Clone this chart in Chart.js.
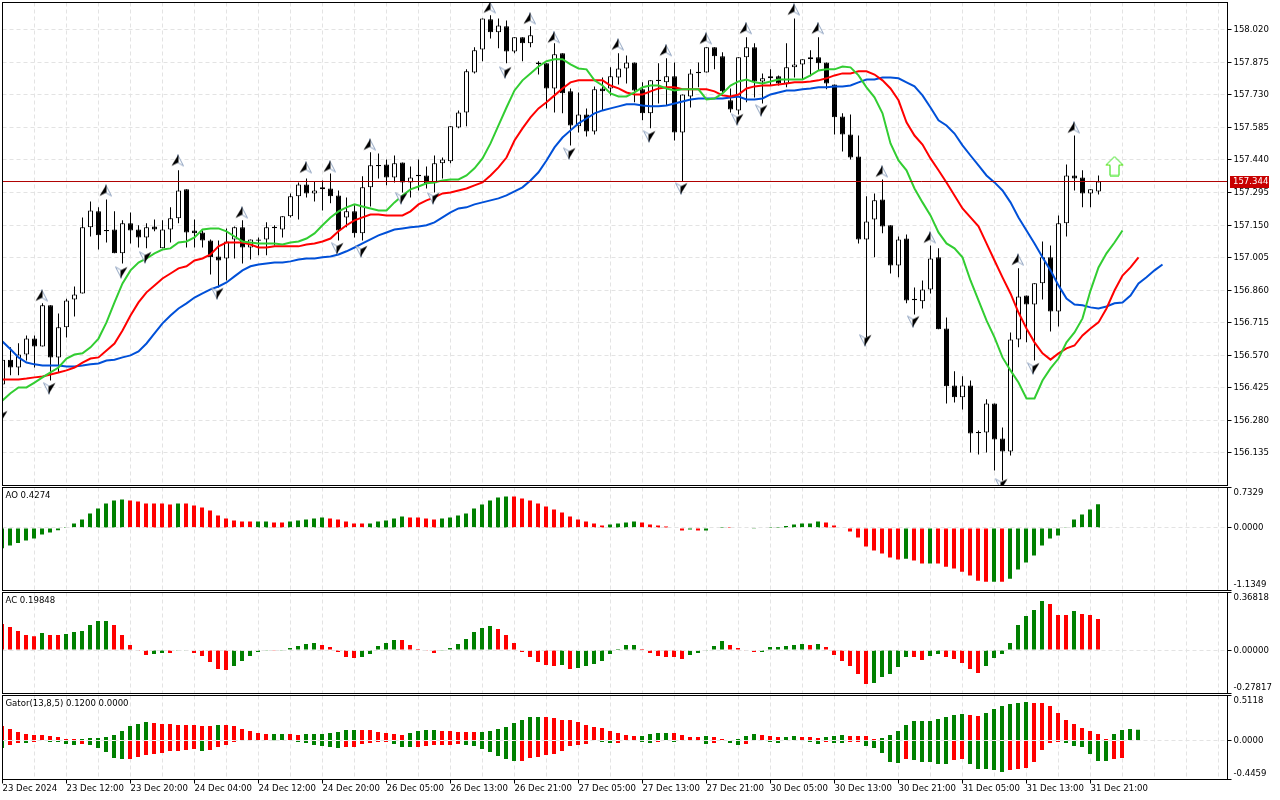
<!DOCTYPE html>
<html><head><meta charset="utf-8">
<style>
html,body{margin:0;padding:0;background:#fff;width:1280px;height:800px;overflow:hidden}
canvas{position:absolute;left:0;display:block}
</style>
<script src="https://cdn.jsdelivr.net/npm/chart.js@4/dist/chart.umd.min.js"></script>
</head><body>
<canvas id="cMain" style="top:0;width:1280px;height:487px" width="1280" height="487"></canvas>
<canvas id="cAO" style="top:487px;width:1280px;height:104px" width="1280" height="104"></canvas>
<canvas id="cAC" style="top:591px;width:1280px;height:103px" width="1280" height="103"></canvas>
<canvas id="cGator" style="top:694px;width:1280px;height:106px" width="1280" height="106"></canvas>
<script>
const timeLabels=["23 Dec 2024","23 Dec 12:00","23 Dec 20:00","24 Dec 04:00","24 Dec 12:00","24 Dec 20:00","26 Dec 05:00","26 Dec 13:00","26 Dec 21:00","27 Dec 05:00","27 Dec 13:00","27 Dec 21:00","30 Dec 05:00","30 Dec 13:00","30 Dec 21:00","31 Dec 05:00","31 Dec 13:00","31 Dec 21:00"];
const priceTicks=[158.020,157.875,157.730,157.585,157.440,157.295,157.150,157.005,156.860,156.715,156.570,156.425,156.280,156.135];
const currentPrice=157.344;

const opens=[156.439,156.550,156.515,156.573,156.644,156.609,156.792,156.560,156.694,156.818,
156.845,157.140,157.211,157.128,157.130,157.024,157.158,157.130,157.095,157.144,
157.046,157.130,157.180,157.309,157.126,157.117,157.081,157.010,157.001,157.086,
157.140,157.050,157.086,157.086,157.142,157.130,157.189,157.278,157.331,157.291,
157.309,157.313,157.282,157.184,157.211,157.113,157.318,157.418,157.420,157.362,
157.429,157.340,157.374,157.371,157.336,157.425,157.434,157.585,157.652,157.830,
157.933,158.067,158.009,158.036,157.924,157.987,157.960,157.874,157.871,157.759,
157.916,157.746,157.590,157.643,157.567,157.759,157.759,157.808,157.848,157.875,
157.755,157.648,157.798,157.786,157.813,157.563,157.723,157.833,157.830,157.942,
157.902,157.706,157.661,157.898,157.942,157.790,157.804,157.813,157.781,157.853,
157.866,157.889,157.898,157.875,157.777,157.634,157.554,157.456,157.086,157.175,
157.264,157.149,156.970,157.090,156.821,156.810,156.863,157.006,156.689,156.435,
156.382,156.435,156.228,156.225,156.354,156.199,156.141,156.640,156.836,156.796,
156.890,157.006,156.765,157.158,157.371,157.362,157.291,157.300];
const highs=[156.550,156.605,156.623,156.658,156.658,156.801,156.792,156.756,156.822,156.876,
157.184,157.255,157.229,157.264,157.211,157.171,157.206,157.149,157.158,157.175,
157.171,157.229,157.394,157.309,157.175,157.126,157.086,157.081,157.135,157.144,
157.171,157.086,157.095,157.162,157.149,157.189,157.291,157.340,157.358,157.345,
157.349,157.380,157.304,157.273,157.238,157.367,157.474,157.469,157.442,157.460,
157.429,157.411,157.442,157.411,157.460,157.451,157.590,157.661,157.844,157.942,
158.071,158.085,158.071,158.062,157.987,157.987,158.036,157.880,157.871,157.960,
157.916,157.759,157.741,157.670,157.768,157.808,157.853,157.916,157.906,157.875,
157.786,157.795,157.871,157.893,157.875,157.732,157.844,157.875,157.942,157.942,
157.920,157.759,157.898,157.987,157.960,157.826,157.844,157.817,157.960,158.071,
157.889,157.929,157.987,157.875,157.777,157.648,157.643,157.549,157.278,157.291,
157.353,157.149,157.099,157.108,156.872,156.903,157.059,157.046,156.738,156.498,
156.476,156.457,156.234,156.373,156.354,156.248,156.671,156.957,156.836,156.890,
157.077,157.059,157.193,157.420,157.549,157.394,157.309,157.371];
const lows=[156.439,156.480,156.480,156.546,156.515,156.609,156.457,156.493,156.649,156.742,
156.845,157.099,157.041,157.072,157.024,156.979,157.068,157.050,157.046,157.122,
157.046,157.072,157.158,157.050,157.050,157.050,156.930,156.872,156.903,157.001,
156.979,156.996,157.015,157.015,157.059,157.095,157.184,157.175,157.273,157.255,
157.215,157.247,157.081,157.140,157.095,157.081,157.233,157.358,157.327,157.340,
157.295,157.273,157.304,157.313,157.295,157.358,157.425,157.581,157.590,157.826,
157.880,157.982,157.938,157.871,157.916,157.880,157.942,157.821,157.670,157.652,
157.648,157.505,157.563,157.545,157.554,157.661,157.728,157.777,157.781,157.697,
157.617,157.581,157.692,157.683,157.527,157.345,157.674,157.764,157.830,157.844,
157.737,157.652,157.643,157.697,157.719,157.692,157.772,157.772,157.764,157.808,
157.799,157.813,157.839,157.755,157.554,157.478,157.442,157.068,156.649,157.006,
157.113,156.934,156.917,156.801,156.751,156.778,156.845,156.685,156.354,156.359,
156.328,156.136,156.127,156.136,156.056,156.011,156.123,156.605,156.627,156.546,
156.818,156.676,156.698,157.099,157.304,157.229,157.229,157.286];
const closes=[156.550,156.515,156.573,156.644,156.609,156.792,156.560,156.694,156.814,156.840,
157.140,157.215,157.104,157.122,157.024,157.158,157.126,157.095,157.140,157.130,
157.130,157.180,157.304,157.117,157.113,157.081,157.006,156.992,157.077,157.140,
157.050,157.086,157.080,157.140,157.136,157.189,157.278,157.331,157.291,157.304,
157.318,157.278,157.126,157.211,157.113,157.318,157.416,157.412,157.362,157.425,
157.340,157.362,157.368,157.336,157.425,157.442,157.590,157.652,157.835,157.929,
158.071,158.009,158.040,157.924,157.987,157.960,157.996,157.868,157.759,157.911,
157.737,157.594,157.643,157.567,157.755,157.746,157.813,157.848,157.875,157.750,
157.648,157.795,157.792,157.813,157.563,157.732,157.826,157.827,157.942,157.902,
157.746,157.665,157.898,157.942,157.790,157.804,157.813,157.781,157.853,157.866,
157.889,157.898,157.871,157.781,157.630,157.554,157.451,157.086,157.166,157.260,
157.144,156.970,157.086,156.814,156.815,156.863,157.001,156.685,156.431,156.382,
156.435,156.221,156.222,156.354,156.194,156.141,156.640,156.832,156.796,156.890,
157.006,156.765,157.158,157.371,157.358,157.291,157.309,157.344];

const lips=[156.368,156.400,156.426,156.426,156.448,156.471,156.493,156.515,156.555,156.573,156.578,156.605,156.644,156.716,156.805,156.890,156.948,156.983,157.001,157.024,157.041,157.046,157.072,157.077,157.095,157.130,157.135,157.135,157.122,157.099,157.077,157.072,157.068,157.068,157.068,157.063,157.072,157.077,157.090,157.113,
157.149,157.184,157.211,157.229,157.242,157.233,157.224,157.215,157.215,157.251,157.282,157.309,157.322,157.336,157.340,157.349,157.353,157.353,157.371,157.403,157.447,157.514,157.594,157.674,157.750,157.795,157.826,157.857,157.880,157.889,157.889,157.866,157.848,157.844,157.795,157.772,157.737,157.723,157.723,157.741,
157.764,157.772,157.772,157.759,157.750,157.755,157.755,157.755,157.710,157.714,157.737,157.772,157.790,157.799,157.786,157.781,157.790,157.799,157.799,157.799,157.799,157.817,157.839,157.844,157.844,157.857,157.853,157.817,157.764,157.719,157.648,157.514,157.438,157.394,157.313,157.251,157.193,157.117,157.068,157.046,157.006,156.903,156.814,156.725,156.649,156.560,156.502,156.448,156.377,156.377,156.457,156.511,156.555,156.627,156.671,156.734,156.858,156.961,157.024,157.072,157.126];
const teeth=[156.462,156.462,156.462,156.466,156.471,156.475,156.484,156.493,156.502,156.515,156.537,156.555,156.560,156.591,156.622,156.680,156.747,156.805,156.850,156.881,156.912,156.934,156.957,156.966,156.992,157.001,157.019,157.055,157.072,157.072,157.072,157.063,157.050,157.050,157.055,157.055,157.055,157.055,157.063,157.068,
157.077,157.090,157.122,157.149,157.171,157.184,157.197,157.197,157.193,157.193,157.193,157.211,157.242,157.260,157.273,157.291,157.295,157.304,157.313,157.327,157.340,157.371,157.407,157.451,157.527,157.581,157.630,157.670,157.697,157.728,157.759,157.786,157.795,157.795,157.795,157.795,157.772,157.759,157.741,157.732,
157.732,157.746,157.759,157.764,157.764,157.755,157.755,157.755,157.755,157.746,157.728,157.723,157.732,157.759,157.768,157.772,157.772,157.777,157.781,157.786,157.786,157.790,157.795,157.804,157.817,157.826,157.826,157.835,157.835,157.821,157.795,157.759,157.706,157.608,157.549,157.509,157.447,157.394,157.340,157.282,157.224,157.184,157.144,157.068,156.992,156.917,156.845,156.760,156.689,156.627,156.578,156.550,156.578,156.600,156.613,156.658,156.689,156.716,156.778,156.858,156.925,156.961,157.006];
const jaw=[156.631,156.596,156.560,156.537,156.529,156.524,156.524,156.524,156.520,156.520,156.524,156.529,156.533,156.546,156.550,156.560,156.569,156.587,156.622,156.667,156.712,156.747,156.778,156.801,156.827,156.845,156.863,156.876,156.894,156.921,156.948,156.966,156.974,156.979,156.983,156.983,156.988,156.996,157.001,157.001,
157.006,157.010,157.019,157.033,157.050,157.068,157.086,157.104,157.117,157.130,157.135,157.140,157.144,157.149,157.162,157.184,157.206,157.224,157.229,157.242,157.251,157.260,157.269,157.282,157.300,157.318,157.349,157.385,157.438,157.496,157.540,157.572,157.603,157.625,157.648,157.661,157.670,157.679,157.688,157.688,
157.683,157.679,157.679,157.683,157.692,157.701,157.710,157.714,157.714,157.714,157.714,157.719,157.723,157.710,157.710,157.714,157.732,157.741,157.750,157.750,157.755,157.759,157.764,157.764,157.768,157.768,157.772,157.786,157.799,157.799,157.808,157.808,157.804,157.786,157.768,157.728,157.674,157.617,157.594,157.558,157.505,157.460,157.416,157.371,157.340,157.304,157.251,157.184,157.126,157.068,157.006,156.948,156.881,156.822,156.796,156.792,156.783,156.778,156.787,156.801,156.805,156.836,156.890,156.917,156.948,156.974];

const upFractalBars=[5,13,22,30,38,41,46,61,66,69,77,83,88,93,99,102,110,116,127,134];
const upFractalPrices=[156.836,157.304,157.438,157.206,157.407,157.411,157.509,158.120,158.071,157.987,157.955,157.929,157.982,158.027,158.111,158.027,157.389,157.095,156.996,157.585];
const downFractalBars=[0,6,15,18,27,42,45,50,54,63,71,81,85,92,95,108,114,125,129];
const downFractalPrices=[156.297,156.422,156.939,157.006,156.845,157.046,157.033,157.269,157.269,157.830,157.469,157.545,157.313,157.621,157.661,156.636,156.720,155.994,156.511];
const signalBar=[139], signalPrice=[157.413];

const aoValues=[-0.369,-0.321,-0.272,-0.230,-0.194,-0.121,-0.085,-0.042,0.018,0.079,0.151,0.260,0.351,0.442,0.496,0.514,0.496,0.478,0.442,0.442,0.442,0.424,0.442,0.442,0.405,0.369,0.315,0.224,0.169,0.133,0.115,0.115,0.115,0.115,0.097,0.097,0.115,0.133,0.151,0.169,
0.188,0.169,0.151,0.115,0.079,0.079,0.079,0.115,0.133,0.169,0.206,0.188,0.188,0.169,0.151,0.169,0.188,0.224,0.260,0.351,0.424,0.496,0.551,0.569,0.569,0.532,0.496,0.442,0.387,0.333,0.278,0.206,0.151,0.115,0.079,0.042,0.061,0.079,0.097,0.115,
0.097,0.061,0.042,0.024,0.006,-0.048,-0.030,-0.048,-0.048,0.006,0.018,0.018,-0.012,-0.012,-0.006,-0.012,0.018,0.018,0.036,0.061,0.079,0.079,0.115,0.097,0.042,0.006,-0.066,-0.175,-0.339,-0.411,-0.466,-0.538,-0.575,-0.557,-0.593,-0.647,-0.647,-0.647,-0.702,-0.738,
-0.793,-0.865,-0.956,-0.974,-0.974,-0.974,-0.920,-0.756,-0.629,-0.502,-0.321,-0.194,-0.139,0.012,0.151,0.242,0.333,0.4274];
const aoTrend="G16 R6 G1 R9 G2 R2 G5 R5 G5 R4 G9 R12 G4 R6 G1 R1 G3 R3 G1 R1 G7 R10 G1 R2 G1 R7 G1 R1 G12";
const acValues=[0.166,0.147,0.121,0.096,0.089,0.109,0.096,0.096,0.102,0.115,0.121,0.160,0.185,0.185,0.160,0.096,0.032,-0.006,-0.032,-0.026,-0.019,-0.019,-0.004,-0.004,-0.019,-0.038,-0.077,-0.121,-0.128,-0.102,-0.070,-0.038,-0.013,-0.004,-0.004,-0.004,0.013,0.026,0.038,0.045,
0.032,0.019,-0.013,-0.045,-0.051,-0.045,-0.026,0.026,0.045,0.064,0.064,0.032,0.006,-0.002,-0.019,-0.002,0.013,0.038,0.070,0.115,0.141,0.153,0.134,0.096,0.045,-0.013,-0.045,-0.077,-0.096,-0.102,-0.096,-0.121,-0.115,-0.102,-0.089,-0.070,-0.026,0.006,0.032,0.032,
0.006,-0.019,-0.038,-0.045,-0.045,-0.058,-0.032,-0.019,-0.004,0.026,0.058,0.032,0.013,-0.002,-0.013,-0.013,0.019,0.019,0.026,0.032,0.038,0.032,0.038,0.019,-0.032,-0.070,-0.102,-0.153,-0.217,-0.211,-0.173,-0.153,-0.109,-0.045,-0.045,-0.064,-0.038,-0.026,-0.045,-0.058,
-0.083,-0.121,-0.147,-0.102,-0.051,-0.026,0.045,0.160,0.217,0.256,0.313,0.294,0.224,0.224,0.249,0.230,0.224,0.19848];
const acTrend="R5 G1 R2 G6 R5 G2 R1 G2 R5 G5 R1 G5 R5 G5 R5 G7 R8 G1 R1 G8 R6 G5 R4 G6 R1 G1 R6 G5 R2 G2 R5 G8 R3 G1 R3";
const gatorUp=[0.163,0.129,0.095,0.072,0.061,0.061,0.049,0.038,0.015,0.015,0.015,0.027,0.027,0.038,0.061,0.106,0.163,0.186,0.209,0.198,0.186,0.186,0.175,0.175,0.175,0.163,0.163,0.175,0.175,0.163,0.129,0.106,0.084,0.072,0.072,0.072,0.072,0.061,0.072,0.072,
0.072,0.084,0.095,0.118,0.118,0.118,0.118,0.095,0.084,0.072,0.061,0.084,0.106,0.118,0.118,0.106,0.106,0.095,0.095,0.095,0.095,0.106,0.129,0.152,0.198,0.232,0.266,0.266,0.266,0.255,0.232,0.232,0.209,0.175,0.152,0.141,0.106,0.084,0.061,0.049,
0.049,0.072,0.084,0.084,0.084,0.061,0.038,0.038,0.049,0.038,0.015,0.004,0.015,0.049,0.072,0.061,0.049,0.038,0.038,0.049,0.038,0.038,0.027,0.038,0.049,0.061,0.049,0.049,0.049,0.015,0.027,0.061,0.106,0.175,0.220,0.220,0.220,0.243,0.266,0.289,
0.300,0.289,0.277,0.312,0.357,0.391,0.414,0.426,0.437,0.426,0.426,0.391,0.312,0.232,0.186,0.141,0.106,0.072,0.015,0.072,0.118,0.129,0.120];
const gatorDown=[-0.087,-0.053,-0.030,-0.030,-0.019,-0.008,-0.019,-0.019,-0.042,-0.053,-0.042,-0.053,-0.087,-0.133,-0.201,-0.213,-0.213,-0.190,-0.167,-0.156,-0.144,-0.122,-0.122,-0.110,-0.099,-0.122,-0.110,-0.076,-0.053,-0.019,-0.008,-0.008,-0.008,-0.008,-0.004,-0.008,-0.008,-0.019,-0.030,-0.053,
-0.065,-0.076,-0.087,-0.076,-0.076,-0.042,-0.030,-0.019,-0.019,-0.042,-0.076,-0.076,-0.076,-0.065,-0.053,-0.053,-0.053,-0.042,-0.053,-0.065,-0.099,-0.133,-0.179,-0.213,-0.236,-0.236,-0.201,-0.190,-0.167,-0.156,-0.122,-0.065,-0.053,-0.042,-0.008,-0.019,-0.030,-0.030,-0.008,-0.008,
-0.019,-0.030,-0.019,-0.008,-0.019,-0.008,-0.008,-0.008,-0.042,-0.030,-0.008,-0.030,-0.053,-0.042,-0.008,-0.008,-0.019,-0.030,-0.008,-0.008,-0.008,-0.019,-0.042,-0.019,-0.030,-0.030,-0.019,-0.019,-0.065,-0.087,-0.144,-0.247,-0.258,-0.213,-0.224,-0.247,-0.247,-0.270,-0.270,-0.224,
-0.213,-0.270,-0.327,-0.327,-0.338,-0.361,-0.338,-0.327,-0.315,-0.247,-0.110,-0.030,-0.019,-0.030,-0.065,-0.076,-0.156,-0.236,-0.236,-0.213,-0.201,0,0];
const gatorUpTrend="R10 G9 R8 G1 R6 G2 R2 G7 R6 G4 R5 G8 R12 G4 R4 G1 R2 G4 R3 G2 R3 G3 R4 G11 R2 G6 R10 G4";
const gatorDownTrend="G1 R2 G1 R2 G4 R1 G5 R9 G1 R5 G4 R2 G6 R6 G3 R6 G7 R9 G3 R3 G2 R2 G1 R1 G3 R2 G2 R1 G1 R1 G2 R3 G2 R1 G2 R2 G5 R1 G5 R2 G5 R7 G6 R2 G2";

const FAMILY="'DejaVu Sans Condensed','DejaVu Sans',sans-serif";
const FONT={family:FAMILY,size:9.5,lineHeight:'11px'};
const FONT_CSS="9.5px "+FAMILY;
const GRID='#e3e3e3', GREEN='#008000', RED='#ff0000';
const XMAX=153.125, BAR_NUDGE=-0.0625;
const expand=s=>s.split(' ').flatMap(t=>Array(+t.slice(1)).fill(t[0]==='G'?GREEN:RED));

function arrowCanvas(dir){
  const c=document.createElement('canvas');c.width=17;c.height=14;
  const g=c.getContext('2d');
  g.translate(8.5,7);
  if(dir<0)g.rotate(Math.PI);
  g.translate(dir>0?-1:1,0);
  g.lineWidth=1;
  g.beginPath();g.moveTo(0,-6);g.lineTo(6,5.5);g.lineTo(0,2);g.closePath();
  g.fillStyle='#fff';g.fill();
  g.strokeStyle='#8fa3c0';g.stroke();
  g.beginPath();g.moveTo(1,-6);g.lineTo(-6,5.5);g.lineTo(1,2);g.closePath();
  g.fillStyle='#000';g.fill();
  return c;
}
function signalCanvas(){
  const c=document.createElement('canvas');c.width=21;c.height=21;
  const g=c.getContext('2d');
  g.beginPath();g.moveTo(10.5,1);g.lineTo(19,9.5);g.lineTo(15,9.5);g.lineTo(15,20);g.lineTo(6,20);g.lineTo(6,9.5);g.lineTo(2,9.5);g.closePath();
  g.strokeStyle='#7dffd8';g.lineWidth=1;g.translate(0.6,0);g.stroke();g.translate(-0.6,0);
  g.strokeStyle='#5ee012';g.stroke();
  return c;
}
function frameAndText(label,extra){
  return {id:'panelDeco',afterDraw(chart){
    const {ctx,chartArea:a}=chart;
    ctx.save();
    ctx.strokeStyle='#000';ctx.lineWidth=1;ctx.setLineDash([]);
    ctx.strokeRect(a.left,a.top,a.right-a.left,a.bottom-a.top);
    ctx.font=FONT_CSS;ctx.fillStyle='#000';ctx.textBaseline='middle';ctx.textAlign='left';
    if(label)ctx.fillText(label,a.left+3,a.top+8.5);
    if(extra)extra(chart,ctx);
    ctx.restore();
  }};
}
function xScale(bottomHeight,withLabels){
  return {type:'linear',min:0,max:XMAX,offset:false,
    afterBuildTicks(s){const t=[];for(let v=0;v<=152;v+=4)t.push({value:v});s.ticks=t;},
    afterFit(s){s.height=bottomHeight;s.paddingLeft=s.paddingRight=s.paddingTop=s.paddingBottom=0;},
    border:{display:false,dash:[4,3]},
    grid:{color:GRID,lineWidth:1,offset:false,drawTicks:withLabels,tickLength:4,tickWidth:1,tickBorderDash:[],
      tickColor:c=>(c.tick&&c.tick.value%8===0&&timeLabels[c.tick.value/8])?'#000':'rgba(0,0,0,0)'},
    ticks:{display:withLabels,autoSkip:false,maxRotation:0,minRotation:0,align:'start',padding:0,color:'#000',font:FONT,
      callback:v=>(v%8===0&&timeLabels[v/8])||''}
  };
}
function yScale(min,max,tickVals,fmt,z,edgeShift){
  return {type:'linear',position:'right',min,max,
    afterBuildTicks(s){s.ticks=tickVals.map(v=>({value:v}));},
    afterFit(s){s.width=52.5;s.paddingLeft=s.paddingRight=s.paddingTop=s.paddingBottom=0;},
    border:{display:false,dash:[4,3]},
    grid:{color:GRID,lineWidth:1,tickLength:4,tickWidth:1,tickColor:'#000',tickBorderDash:[],z},
    ticks:{autoSkip:false,padding:2,color:'#000',font:FONT,
      callback(v){const t=v.toFixed(fmt);
        if(!edgeShift)return t;
        if(v===max)return ['',t];
        if(v===min)return [t,''];
        return t;}}
  };
}
function baseOptions(padding,scales){
  return {responsive:false,animation:false,events:[],devicePixelRatio:1,
    layout:{padding,autoPadding:false},
    plugins:{legend:{display:false},tooltip:{enabled:false},title:{display:false}},
    scales};
}
const barCommon={grouped:false,barPercentage:1,categoryPercentage:1,inflateAmount:0,borderSkipped:false,borderWidth:0};
const bars=(vals,colors,thick,order)=>({type:'bar',...barCommon,maxBarThickness:thick,order,
  data:vals.map((v,i)=>({x:i+BAR_NUDGE,y:v})),backgroundColor:colors});
const line=(vals,color,order)=>({type:'line',data:vals.map((v,i)=>({x:i,y:v})),borderColor:color,borderWidth:2,pointRadius:0,tension:0,fill:false,order});
const marks=(xs,ys,img,order)=>({type:'scatter',data:xs.map((x,i)=>({x,y:ys[i]})),pointStyle:img,pointRadius:7,showLine:false,order});

// Main price panel
new Chart(document.getElementById('cMain'),{type:'bar',
  data:{datasets:[
    {type:'bar',...barCommon,maxBarThickness:1,order:7,backgroundColor:'#000',
      data:highs.map((h,i)=>({x:i,y:[lows[i],h]}))},
    {type:'bar',...barCommon,borderWidth:1,borderColor:'#000',maxBarThickness:5,order:6,
      backgroundColor:closes.map((c,i)=>c>=opens[i]?'#fff':'#000'),
      data:closes.map((c,i)=>({x:i,y:[opens[i],c]}))},
    line(jaw,'#0050d8',5),
    line(teeth,'#ff0000',4),
    line(lips,'#32cd32',3),
    {type:'line',data:[{x:0,y:currentPrice},{x:XMAX,y:currentPrice}],borderColor:'#b00000',borderWidth:1,pointRadius:0,order:2},
    marks(upFractalBars,upFractalPrices,arrowCanvas(1),1),
    marks(downFractalBars,downFractalPrices,arrowCanvas(-1),1),
    marks(signalBar,signalPrice,signalCanvas(),1)
  ]},
  options:baseOptions({left:2.5,right:0,top:2.5,bottom:0},{
    x:xScale(1.5,false),
    y:yScale(155.989,158.142,priceTicks,3,undefined,false)
  }),
  plugins:[frameAndText('',(chart,ctx)=>{
    const y=chart.scales.y.getPixelForValue(currentPrice);
    ctx.fillStyle='#c80000';ctx.fillRect(1230,Math.round(y)-6,39,12);
    ctx.fillStyle='#fff';ctx.textAlign='left';ctx.fillText(currentPrice.toFixed(3),1233,Math.round(y));
  })]
});

// AO panel
new Chart(document.getElementById('cAO'),{type:'bar',
  data:{datasets:[bars(aoValues,expand(aoTrend),4,1)]},
  options:baseOptions({left:2.5,right:0,top:0.5,bottom:0},{
    x:xScale(0.5,false),
    y:yScale(-1.1349,0.7329,[0.7329,0,-1.1349],4,1,true)
  }),
  plugins:[frameAndText('AO 0.4274')]
});

// AC panel
new Chart(document.getElementById('cAC'),{type:'bar',
  data:{datasets:[bars(acValues,expand(acTrend),4,1)]},
  options:baseOptions({left:2.5,right:0,top:1.5,bottom:0},{
    x:xScale(0.5,false),
    y:yScale(-0.27817,0.36818,[0.36818,0,-0.27817],5,1,true)
  }),
  plugins:[frameAndText('AC 0.19848')]
});

// Gator panel
new Chart(document.getElementById('cGator'),{type:'bar',
  data:{datasets:[bars(gatorUp,expand(gatorUpTrend),4,1),bars(gatorDown,expand(gatorDownTrend),4,1)]},
  options:baseOptions({left:2.5,right:0,top:1.5,bottom:0},{
    x:xScale(20.5,true),
    y:yScale(-0.4459,0.5118,[0.5118,0,-0.4459],4,1,true)
  }),
  plugins:[frameAndText('Gator(13,8,5) 0.1200 0.0000')]
});
</script>
</body></html>
